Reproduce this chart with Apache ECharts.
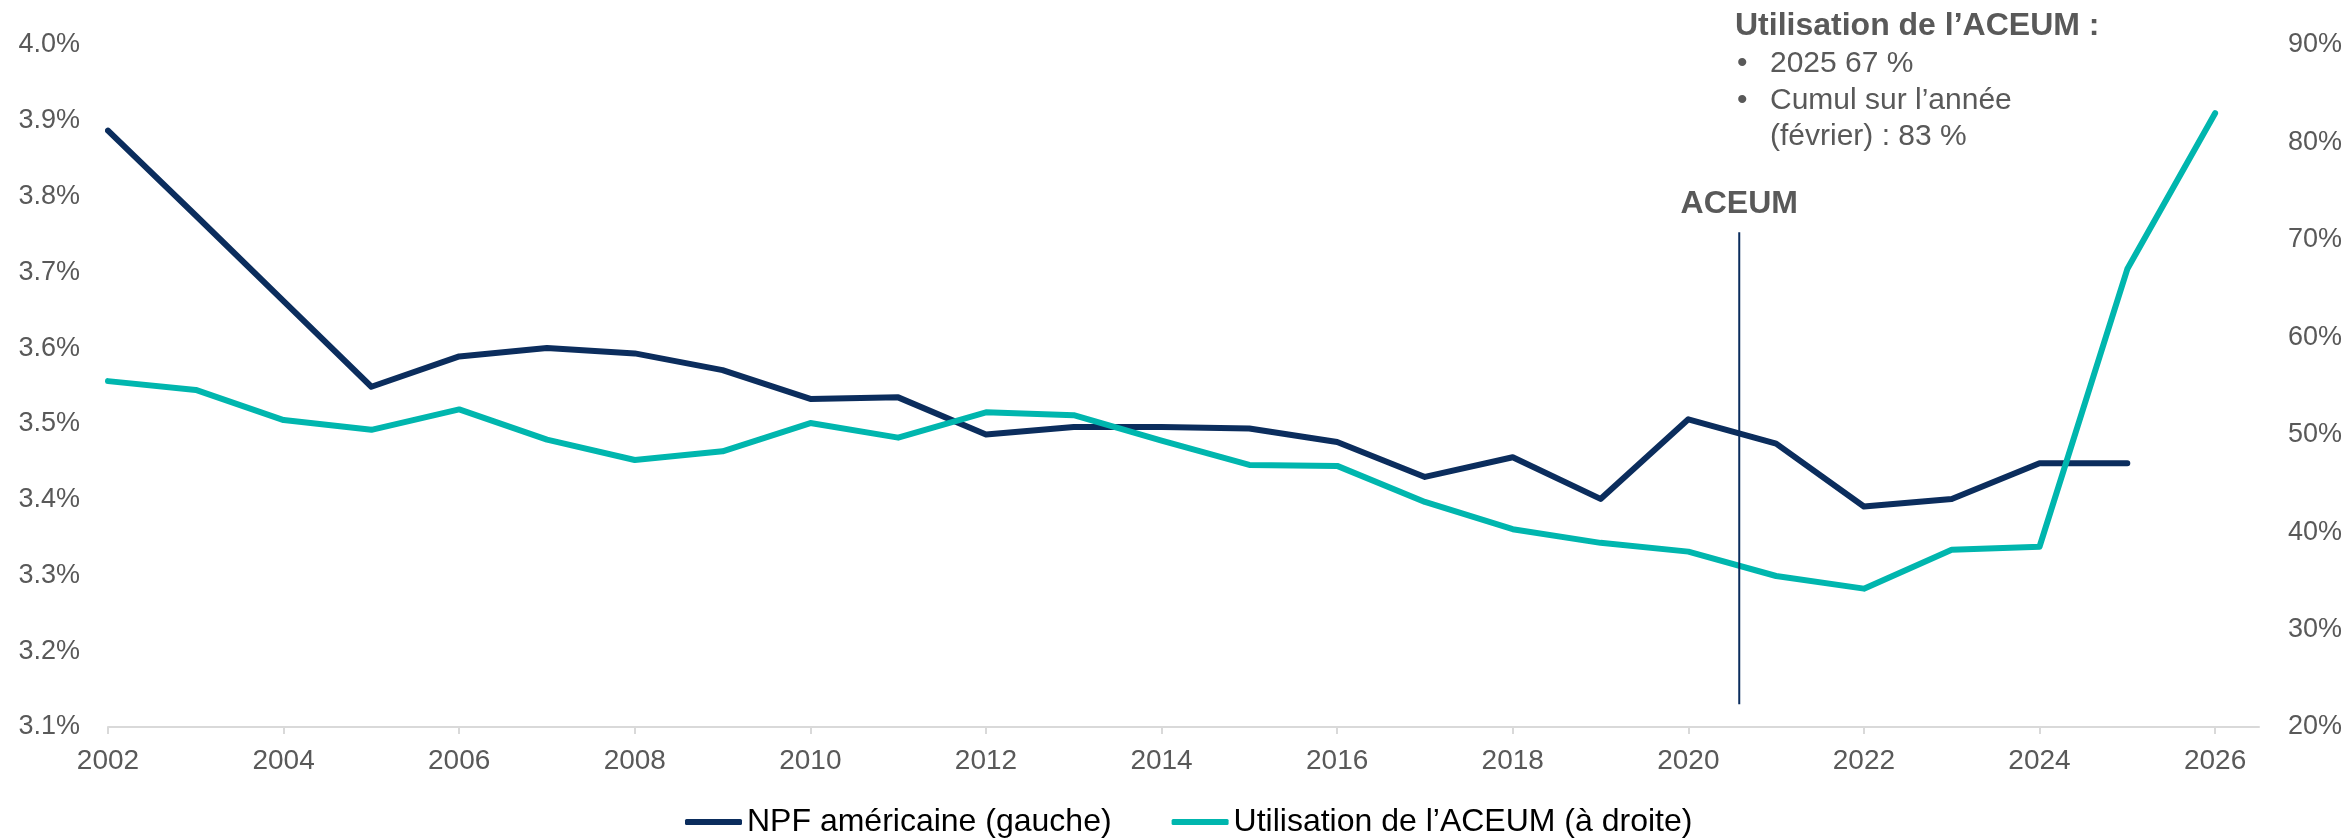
<!DOCTYPE html>
<html>
<head>
<meta charset="utf-8">
<script src="https://cdn.jsdelivr.net/npm/echarts@6/dist/echarts.min.js"></script>
<style>
  html, body { margin: 0; padding: 0; background: #fff; }
  #chart { width: 2349px; height: 838px; }
</style>
</head>
<body>
<div id="chart"></div>
<script>
// données
const years = [2002, 2003, 2004, 2005, 2006, 2007, 2008, 2009, 2010, 2011, 2012, 2013,
  2014, 2015, 2016, 2017, 2018, 2019, 2020, 2021, 2022, 2023, 2024, 2025, 2026]
const npfRate = [3.887, 3.775, 3.662, 3.549, 3.589, 3.600, 3.593, 3.571, 3.533, 3.535, 3.486, 3.496,
  3.496, 3.494, 3.476, 3.430, 3.456, 3.401, 3.506, 3.474, 3.391, 3.401, 3.448, 3.448]
const aceumUse = [55.5, 54.6, 51.5, 50.5, 52.6, 49.5, 47.4, 48.3, 51.2, 49.7, 52.3, 52.0,
  49.4, 46.9, 46.8, 43.1, 40.3, 38.9, 38.0, 35.5, 34.2, 38.2, 38.5, 67, 83]
const yearTicks = [2002, 2004, 2006, 2008, 2010, 2012, 2014, 2016, 2018, 2020, 2022, 2024, 2026]
// entrée en vigueur de l'ACEUM (juillet 2020) et étendue du trait
const aceumDate = 2020.58
const aceumSpan = [3.753, 3.13]

const seriesNames = ['NPF américaine (gauche)', 'Utilisation de l’ACEUM (à droite)']
const noteTitle = 'Utilisation de l’ACEUM :'
const noteLines = ['2025 67 %', 'Cumul sur l’année', '(février) : 83 %']

const NAVY = '#0b2d5d'
const TEAL = '#00b6ae'
const GREY = '#595959'
const FONT = '"Liberation Sans", Arial, sans-serif'

const chart = echarts.init(document.getElementById('chart'))

const option = {
  animation: false,
  textStyle: { fontFamily: FONT },
  grid: { left: 108, right: 90, top: 45, bottom: 111, containLabel: false },
  legend: {
    top: 801,
    left: 680,
    itemWidth: 57,
    itemHeight: 6,
    itemGap: 60,
    icon: 'roundRect',
    textStyle: { color: '#000', fontSize: 32, fontFamily: FONT },
    data: seriesNames
  },
  xAxis: {
    type: 'value',
    min: 2002,
    max: 2026.5,
    interval: 2,
    splitLine: { show: false },
    axisLine: { show: true, lineStyle: { color: '#d9d9d9', width: 2 } },
    axisTick: {
      show: true,
      length: 7,
      lineStyle: { color: '#d9d9d9', width: 2 },
      customValues: yearTicks
    },
    axisLabel: {
      color: GREY,
      fontSize: 28,
      margin: 20,
      customValues: yearTicks,
      formatter: v => String(v)
    }
  },
  yAxis: [
    {
      type: 'value',
      min: 3.1,
      max: 4.0,
      interval: 0.1,
      splitLine: { show: false },
      axisLine: { show: false },
      axisTick: { show: false },
      axisLabel: {
        color: GREY,
        fontSize: 27,
        margin: 28,
        formatter: v => v.toFixed(1) + '%'
      }
    },
    {
      type: 'value',
      min: 20,
      max: 90,
      interval: 10,
      position: 'right',
      splitLine: { show: false },
      axisLine: { show: false },
      axisTick: { show: false },
      axisLabel: {
        color: GREY,
        fontSize: 27,
        margin: 29,
        formatter: v => v + '%'
      }
    }
  ],
  series: [
    {
      name: seriesNames[0],
      type: 'line',
      yAxisIndex: 0,
      symbol: 'none',
      color: NAVY,
      lineStyle: { width: 6, color: NAVY, cap: 'round', join: 'round' },
      data: npfRate.map((v, i) => [years[i], v])
    },
    {
      name: seriesNames[1],
      type: 'line',
      yAxisIndex: 1,
      symbol: 'none',
      color: TEAL,
      lineStyle: { width: 6, color: TEAL, cap: 'round', join: 'round' },
      data: aceumUse.map((v, i) => [years[i], v])
    },
    {
      // trait vertical ACEUM
      name: 'ACEUM',
      type: 'line',
      yAxisIndex: 0,
      silent: true,
      symbol: 'circle',
      symbolSize: 0,
      showSymbol: true,
      lineStyle: { width: 2, color: NAVY },
      itemStyle: { color: NAVY },
      label: { show: false },
      data: [
        {
          value: [aceumDate, aceumSpan[0]],
          label: {
            show: true,
            position: 'top',
            distance: 12,
            formatter: 'ACEUM',
            color: GREY,
            fontSize: 32,
            fontWeight: 'bold',
            fontFamily: FONT
          }
        },
        [aceumDate, aceumSpan[1]]
      ]
    }
  ],
  graphic: [
    {
      type: 'text',
      left: 1735,
      top: 10,
      style: { text: noteTitle, fill: GREY, font: 'bold 32px ' + FONT }
    },
    ...noteLines.map((t, i) => ({
      type: 'text',
      left: 1770,
      top: 49 + i * 36.5,
      style: { text: t, fill: GREY, font: '30px ' + FONT }
    })),
    ...[0, 1].map(i => ({
      type: 'text',
      left: 1737,
      top: 49 + i * 36.5,
      style: { text: '•', fill: GREY, font: '30px ' + FONT }
    }))
  ]
}

chart.setOption(option)
</script>
</body>
</html>
